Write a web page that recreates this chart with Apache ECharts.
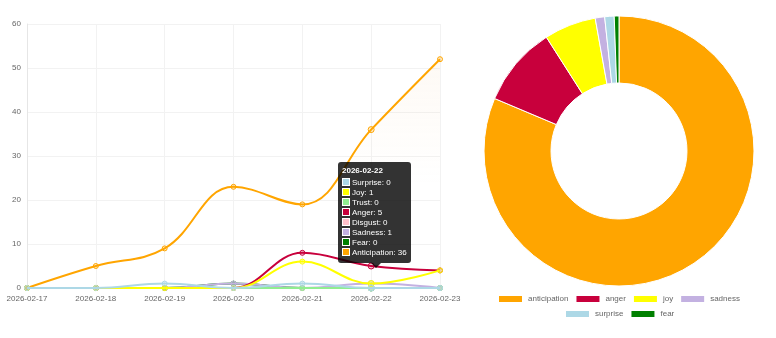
<!DOCTYPE html>
<html>
<head>
<meta charset="utf-8">
<script src="https://cdn.jsdelivr.net/npm/echarts@6/dist/echarts.min.js"></script>
<style>
html,body{margin:0;padding:0;background:#fff;}
#chart{width:776px;height:338px;}
</style>
</head>
<body>
<div id="chart"></div>
<script>
const dates = ['2026-02-17','2026-02-18','2026-02-19','2026-02-20','2026-02-21','2026-02-22','2026-02-23'];
const yTicks = [0,10,20,30,40,50,60];
const surprise     = [0,0,1,0,1,0,0];
const joy          = [0,0,0,0,6,1,4];
const trust        = [0,0,0,0,0,0,0];
const anger        = [0,0,0,0,8,5,4];
const disgust      = [0,0,0,0,0,0,0];
const sadness      = [0,0,0,1,0,1,0];
const fear         = [0,0,0,1,0,0,0];
const anticipation = [0,5,9,23,19,36,52];

const lineNames = ['Surprise','Joy','Trust','Anger','Disgust','Sadness','Fear','Anticipation'];
const lineData = [surprise,joy,trust,anger,disgust,sadness,fear,anticipation];
const colors = ['#add8e6','#ffff00','#90ee90','#c8003c','#ffc0cb','#c3b1e1','#008000','#ffa500'];

const pieNames = ['anticipation','anger','joy','sadness','surprise','fear'];
const pieColors = ['#ffa500','#c8003c','#ffff00','#c3b1e1','#add8e6','#008000'];
const sum = a => a.reduce((s,v)=>s+v,0);
const pieValues = [sum(anticipation),sum(anger),sum(joy),sum(sadness),sum(surprise),sum(fear)];

const FONT = 'Liberation Sans, Arial, Helvetica, sans-serif';

function hexA(hex, a){
  const n = parseInt(hex.slice(1),16);
  return 'rgba('+((n>>16)&255)+','+((n>>8)&255)+','+(n&255)+','+a+')';
}

const chart = echarts.init(document.getElementById('chart'));

const lineSeries = lineNames.map((name,i)=>{
  const s = {
    name: name,
    type: 'line',
    data: lineData[i],
    smooth: 0.4,
    z: 2 + (lineNames.length - i),
    symbol: 'circle',
    symbolSize: 5,
    showSymbol: true,
    lineStyle: {color: colors[i], width: 2},
    itemStyle: {color: hexA(colors[i],0.2), borderColor: colors[i], borderWidth: 1},
    emphasis: {disabled: true},
    animation: false
  };
  if (name === 'Anticipation') {
    s.areaStyle = {
      color: new echarts.graphic.LinearGradient(0,0,0,1,[
        {offset:0,color:'rgba(240,180,110,0.10)'},
        {offset:0.55,color:'rgba(240,180,110,0)'},
        {offset:1,color:'rgba(240,180,110,0)'}
      ])
    };
  }
  return s;
});

const legendText = {fontSize: 8, color: '#666', fontFamily: FONT};

chart.setOption({
  animation: false,
  textStyle: {fontFamily: FONT},
  grid: {left: 27, right: 336, top: 24, bottom: 50, containLabel: false},
  xAxis: {
    type: 'category',
    data: dates,
    boundaryGap: false,
    axisLine: {show: true, lineStyle: {color: '#e6e6e6'}},
    axisTick: {show: false},
    axisLabel: {fontSize: 8, color: '#666', margin: 7, fontFamily: FONT, interval: 0},
    splitLine: {show: true, lineStyle: {color: '#f2f2f2'}}
  },
  yAxis: {
    type: 'value',
    min: yTicks[0],
    max: yTicks[yTicks.length-1],
    interval: 10,
    axisLine: {show: true, lineStyle: {color: '#e6e6e6'}},
    axisTick: {show: false},
    axisLabel: {fontSize: 8, color: '#666', margin: 6, fontFamily: FONT},
    splitLine: {show: true, lineStyle: {color: '#f2f2f2'}}
  },
  tooltip: {
    trigger: 'axis',
    triggerOn: 'none',
    alwaysShowContent: true,
    transitionDuration: 0,
    axisPointer: {type: 'none'},
    backgroundColor: 'rgba(0,0,0,0.8)',
    borderWidth: 0,
    padding: [4,4,5,4],
    extraCssText: 'border-radius:3px;box-shadow:none;',
    position: function(){ return [338,162]; },
    formatter: function(params){
      let h = '<div style="position:relative;font-family:'+FONT+';font-size:8px;line-height:10px;color:#fff;">';
      h += '<div style="font-weight:bold;margin-bottom:2px;">'+params[0].axisValue+'</div>';
      params.filter(p=>p.seriesType==='line').forEach(p=>{
        const c = colors[lineNames.indexOf(p.seriesName)];
        h += '<div style="white-space:nowrap;"><span style="display:inline-block;width:6px;height:6px;background:'+c+';border:1px solid #fff;vertical-align:-1px;margin-right:2px;"></span>'+p.seriesName+': '+p.value+'</div>';
      });
      h += '<div style="position:absolute;left:29px;bottom:-10px;width:0;height:0;border-left:5px solid transparent;border-right:5px solid transparent;border-top:5px solid rgba(0,0,0,0.8);"></div>';
      h += '</div>';
      return h;
    }
  },
  legend: [
    {
      data: pieNames.slice(0,4),
      left: 497, top: 294, padding: 0,
      itemWidth: 25, itemHeight: 8, itemGap: 6,
      textStyle: legendText,
      selectedMode: false,
      icon: 'rect'
    },
    {
      data: pieNames.slice(4),
      left: 564, top: 309, padding: 0,
      itemWidth: 25, itemHeight: 8, itemGap: 6,
      textStyle: legendText,
      selectedMode: false,
      icon: 'rect'
    }
  ],
  series: lineSeries.concat([{
    type: 'pie',
    center: [619,151],
    radius: [68,135],
    startAngle: 90,
    clockwise: true,
    label: {show: false},
    labelLine: {show: false},
    emphasis: {disabled: true},
    itemStyle: {borderColor: '#fff', borderWidth: 1},
    data: pieNames.map((n,i)=>({name: n, value: pieValues[i], itemStyle: {color: pieColors[i]}})),
    animation: false
  }])
});

function showTip(){
  chart.dispatchAction({type: 'showTip', seriesIndex: 0, dataIndex: 5});
}
showTip();
setTimeout(showTip, 50);
</script>
</body>
</html>
